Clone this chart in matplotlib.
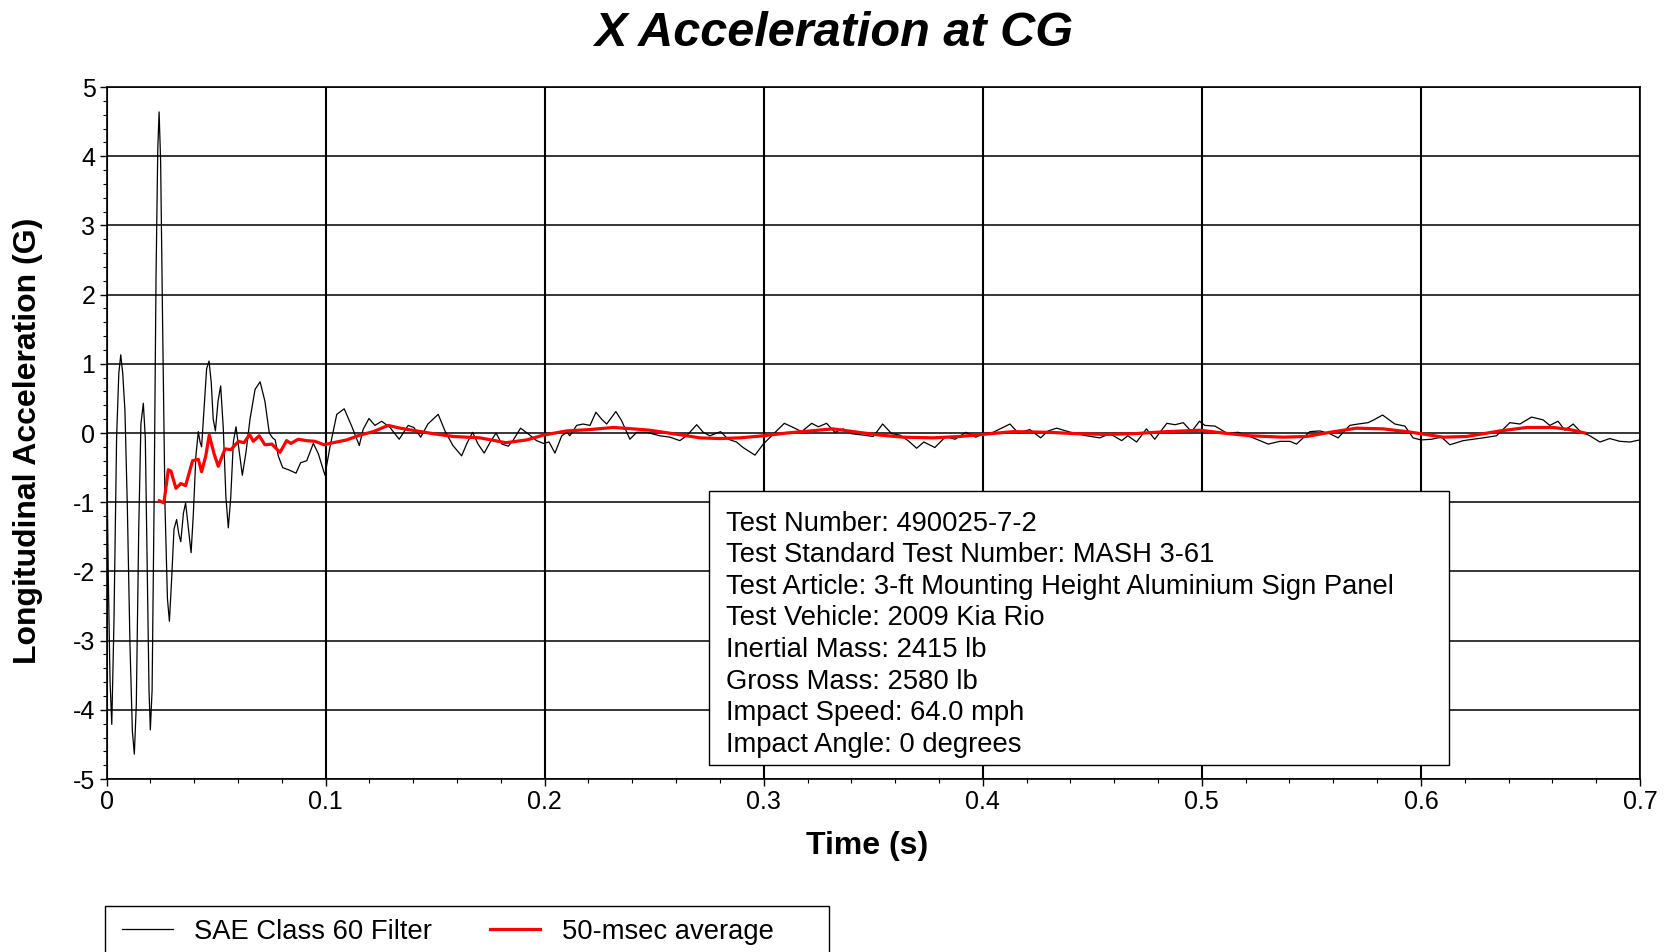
import numpy as np
import matplotlib
matplotlib.use("Agg")
import matplotlib.pyplot as plt
from matplotlib.patches import Rectangle
from matplotlib.ticker import MultipleLocator

plt.rcParams['font.family'] = ['Liberation Sans', 'DejaVu Sans']
plt.rcParams['axes.unicode_minus'] = False

# SAE class 60 filtered trace (time in ms, accel in G)
t_filt = [0.0, 0.8, 1.6, 2.4, 3.4, 4.6, 5.6, 6.5, 7.4, 8.4, 9.5, 10.7, 11.8, 12.7,
          13.6, 14.7, 15.7, 16.8, 17.7, 18.6, 19.4, 20.0, 20.8, 21.7, 22.6, 23.4,
          24.0, 24.7, 25.6, 26.7, 27.8, 28.7, 29.6, 30.8, 32.0, 33.0, 33.9, 35.1,
          36.1, 37.4, 38.6, 39.6, 40.8, 41.9, 42.7, 43.4, 44.5, 45.7, 46.8, 47.8,
          48.7, 49.7, 50.9, 52.1, 53.3, 54.5, 55.6, 56.7, 57.9, 59.1, 60.3, 62.0,
          63.7, 65.5, 67.8, 70.1, 72.3, 74.3, 75.8, 77.0, 78.4, 80.4, 83.0, 86.5,
          88.6, 91.4, 94.4, 96.7, 99.7, 102.0, 105.1, 108.5, 111.9, 115.4, 117.1,
          119.8, 122.5, 125.6, 129.4, 133.6, 137.7, 140.3, 143.4, 146.7, 151.4,
          154.5, 158.1, 162.1, 164.5, 167.1, 169.6, 172.4, 175.0, 177.8, 180.5,
          183.4, 185.5, 189.0, 192.4, 196.3, 199.4, 202.0, 204.7, 207.8, 210.2,
          211.5, 214.6, 217.5, 220.7, 223.4, 226.0, 228.3, 232.5, 235.1, 238.9,
          242.0, 246.6, 252.6, 257.2, 261.7, 264.8, 269.4, 272.4, 275.4, 280.3,
          283.8, 287.6, 290.6, 296.0, 299.8, 303.6, 309.4, 313.5, 317.3, 321.9,
          324.9, 328.7, 332.5, 336.3, 340.1, 345.4, 350.0, 354.3, 358.4, 362.2,
          365.9, 369.8, 373.1, 378.1, 383.1, 387.3, 392.3, 396.8, 400.2, 404.7,
          412.4, 416.2, 421.5, 426.4, 429.8, 433.7, 441.3, 447.4, 453.4, 458.0,
          463.4, 466.2, 470.2, 474.7, 478.5, 484.0, 487.8, 491.5, 495.3, 498.9,
          501.4, 506.0, 511.3, 516.6, 521.9, 526.5, 530.3, 535.6, 540.2, 543.2,
          549.3, 553.9, 558.4, 562.2, 567.5, 571.3, 575.9, 578.5, 582.5, 588.1,
          592.7, 596.4, 600.0, 604.8, 609.4, 613.2, 619.3, 628.4, 634.5, 640.6,
          645.2, 650.5, 655.8, 658.8, 662.6, 665.7, 669.5, 672.5, 677.1, 681.7,
          686.2, 690.8, 695.4, 699.9]
a_filt = [-0.05, -2.06, -3.58, -4.21, -2.72, -0.07, 0.86, 1.13, 0.86, 0.33, -1.06,
          -3.05, -4.31, -4.64, -3.92, -1.39, 0.13, 0.43, -0.07, -2.06, -3.72, -4.29,
          -3.72, -1.06, 2.26, 4.11, 4.64, 3.92, 1.59, -1.06, -2.39, -2.72, -2.19,
          -1.39, -1.25, -1.46, -1.57, -1.16, -1.01, -1.39, -1.73, -1.19, -0.33,
          0.02, -0.13, -0.20, 0.33, 0.93, 1.04, 0.73, 0.20, 0.03, 0.46, 0.68, 0.07,
          -0.93, -1.37, -0.93, -0.13, 0.09, -0.20, -0.61, -0.27, 0.20, 0.63, 0.74,
          0.46, 0.00, -0.07, -0.10, -0.33, -0.50, -0.53, -0.58, -0.43, -0.40,
          -0.15, -0.30, -0.61, -0.20, 0.27, 0.35, 0.10, -0.18, 0.05, 0.21, 0.11,
          0.17, 0.08, -0.09, 0.11, 0.08, -0.06, 0.13, 0.27, 0.03, -0.18, -0.33,
          -0.15, 0.01, -0.16, -0.29, -0.14, 0.00, -0.16, -0.19, -0.11, 0.07, -0.01,
          -0.11, -0.15, -0.13, -0.29, -0.04, 0.01, -0.04, 0.11, 0.13, 0.11, 0.30,
          0.20, 0.13, 0.31, 0.18, -0.09, 0.01, 0.01, -0.04, -0.06, -0.11, -0.04,
          0.12, 0.01, -0.04, 0.02, -0.09, -0.13, -0.21, -0.32, -0.16, -0.04, 0.14,
          0.08, 0.02, 0.14, 0.09, 0.14, 0.01, 0.06, -0.01, -0.03, -0.05, 0.13,
          -0.01, -0.03, -0.11, -0.22, -0.13, -0.21, -0.05, -0.09, 0.01, -0.06,
          -0.01, 0.01, 0.13, 0.00, 0.05, -0.07, 0.03, 0.07, 0.00, -0.04, -0.07,
          -0.01, -0.11, -0.04, -0.13, 0.06, -0.09, 0.14, 0.12, 0.15, 0.02, 0.17,
          0.11, 0.10, 0.00, 0.01, -0.05, -0.11, -0.16, -0.12, -0.12, -0.16, 0.02,
          0.03, -0.01, -0.07, 0.11, 0.13, 0.15, 0.19, 0.26, 0.13, 0.10, -0.07,
          -0.10, -0.09, -0.06, -0.17, -0.11, -0.07, -0.04, 0.15, 0.13, 0.23, 0.19,
          0.11, 0.17, 0.04, 0.13, 0.03, -0.04, -0.13, -0.08, -0.12, -0.13, -0.10]

# 50 ms moving average
t_avg = [24.1, 26.2, 28.2, 29.4, 31.7, 33.9, 36.1, 39.3, 41.9, 43.4, 45.3, 46.9,
         49.1, 51.0, 54.1, 56.8, 60.2, 62.8, 65.3, 67.0, 69.7, 72.3, 75.5, 79.2,
         82.2, 84.2, 87.5, 91.1, 95.2, 99.3, 103.5, 109.6, 115.7, 121.8, 128.6,
         134.0, 141.6, 149.2, 158.3, 170.5, 182.3, 191.8, 199.4, 210.0, 220.7,
         231.3, 240.4, 248.1, 258.7, 270.9, 280.0, 289.1, 299.8, 310.5, 321.1,
         331.7, 340.9, 353.0, 363.7, 377.3, 389.5, 399.9, 413.9, 430.6, 442.8,
         456.5, 468.7, 483.9, 499.1, 509.7, 521.9, 537.1, 547.8, 558.4, 570.6,
         582.8, 593.5, 600.0, 610.2, 620.9, 636.1, 648.3, 660.4, 668.0, 674.8]
a_avg = [-0.98, -1.01, -0.53, -0.55, -0.80, -0.73, -0.76, -0.40, -0.38, -0.56,
         -0.33, -0.03, -0.30, -0.48, -0.23, -0.24, -0.12, -0.14, -0.02, -0.12,
         -0.04, -0.17, -0.16, -0.28, -0.11, -0.15, -0.09, -0.11, -0.12, -0.17,
         -0.14, -0.10, -0.03, 0.02, 0.11, 0.07, 0.03, -0.01, -0.05, -0.07, -0.14,
         -0.10, -0.03, 0.03, 0.05, 0.08, 0.06, 0.04, -0.01, -0.07, -0.08, -0.07,
         -0.04, 0.00, 0.03, 0.06, 0.02, -0.03, -0.06, -0.07, -0.05, -0.02, 0.02,
         0.01, -0.01, -0.02, -0.01, 0.02, 0.04, 0.00, -0.04, -0.06, -0.05, 0.01,
         0.07, 0.06, 0.02, -0.01, -0.06, -0.05, 0.03, 0.08, 0.08, 0.05, 0.00]

x_ticks = [0, 0.1, 0.2, 0.3, 0.4, 0.5, 0.6, 0.7]
x_tick_labels = ['0', '0.1', '0.2', '0.3', '0.4', '0.5', '0.6', '0.7']
y_ticks = [-5, -4, -3, -2, -1, 0, 1, 2, 3, 4, 5]

info_lines = [
    "Test Number: 490025-7-2",
    "Test Standard Test Number: MASH 3-61",
    "Test Article: 3-ft Mounting Height Aluminium Sign Panel",
    "Test Vehicle: 2009 Kia Rio",
    "Inertial Mass: 2415 lb",
    "Gross Mass: 2580 lb",
    "Impact Speed: 64.0 mph",
    "Impact Angle: 0 degrees",
]

fig = plt.figure(figsize=(16.67, 9.52), dpi=100)
ax = fig.add_axes([0.0639, 0.1817, 0.9199, 0.7269])

ax.plot(np.array(t_filt) / 1000, a_filt, color='black', lw=0.9,
        label='SAE Class 60 Filter', zorder=3)
ax.plot(np.array(t_avg) / 1000, a_avg, color='red', lw=2.3,
        label='50-msec average', zorder=4)

ax.set_xlim(0, 0.7)
ax.set_ylim(-5, 5)
ax.set_xticks(x_ticks)
ax.set_xticklabels(x_tick_labels)
ax.set_yticks(y_ticks)
ax.xaxis.set_minor_locator(MultipleLocator(0.02))
ax.yaxis.set_minor_locator(MultipleLocator(0.2))
ax.tick_params(which='major', direction='out', length=5, width=1, labelsize=18, pad=3)
ax.tick_params(which='minor', direction='out', length=3, width=0.8)
ax.xaxis.grid(True, color='black', lw=1.5)
ax.yaxis.grid(True, color='black', lw=1.1)
ax.set_axisbelow(True)
for s in ax.spines.values():
    s.set_color('black')
    s.set_linewidth(1.2)

# titles
fig.text(0.5, 0.965, 'X Acceleration at CG', ha='center', va='center',
         fontsize=35, fontweight='bold', fontstyle='italic')
fig.text(0.0166, 0.537, 'Longitudinal Acceleration (G)', rotation=90,
         ha='center', va='center', fontsize=23, fontweight='bold')
fig.text(0.5204, 0.111, 'Time (s)', ha='center', va='center',
         fontsize=23, fontweight='bold')

# info box
ax.add_patch(Rectangle((0.3929, 0.0202), 0.4825, 0.396, transform=ax.transAxes,
                       facecolor='white', edgecolor='black', lw=1, zorder=5))
ax.text(0.404, 0.2094, "\n".join(info_lines), transform=ax.transAxes,
        ha='left', va='center', fontsize=19.7, linespacing=1.28, zorder=6)

# legend box at the bottom (cut by the figure edge)
fig.patches.append(Rectangle((0.063, -0.02), 0.4343, 0.0683, transform=fig.transFigure,
                             facecolor='white', edgecolor='black', lw=1.0, zorder=-1))
leg = fig.legend(loc='center left', bbox_to_anchor=(0.0732, 0.021),
                 ncol=2, fontsize=19.7, frameon=False, borderpad=0, borderaxespad=0,
                 handlelength=1.85, handletextpad=0.79, columnspacing=2.1)
leg.set_zorder(5)

fig.savefig('out.png', dpi=100)
